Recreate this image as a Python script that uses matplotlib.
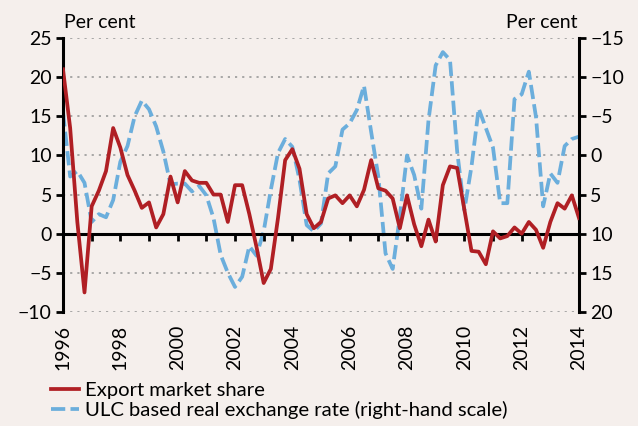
import numpy as np
import matplotlib
matplotlib.use("Agg")
import matplotlib.pyplot as plt

# quarterly observations, 1996Q1 - 2014Q1
export_share = [21.0, 13.5, 1.5, -7.5, 3.5, 5.5, 8.0, 13.5, 11.0, 7.5,
                5.5, 3.3, 4.0, 0.8, 2.5, 7.3, 4.0, 8.0, 6.8, 6.5,
                6.5, 5.0, 5.0, 1.5, 6.2, 6.2, 2.5, -1.7, -6.3, -4.5,
                2.0, 9.4, 10.8, 8.3, 2.5, 0.7, 1.5, 4.5, 4.9, 3.9,
                4.9, 3.5, 5.6, 9.4, 5.8, 5.5, 4.5, 0.7, 4.9, 1.2,
                -1.6, 1.8, -1.0, 6.2, 8.6, 8.4, 3.1, -2.2, -2.3, -3.9,
                0.3, -0.6, -0.3, 0.8, 0.0, 1.5, 0.5, -1.8, 1.5, 3.9,
                3.2, 4.9, 2.0]

ulc_rate = [-5.5, 2.7, 2.0, 3.5, 8.5, 7.5, 7.9, 5.7, 0.8, -1.2,
            -5.0, -7.0, -5.9, -3.7, -0.5, 3.7, 3.6, 3.6, 4.6, 3.9,
            5.1, 8.0, 12.7, 15.0, 16.8, 15.5, 11.6, 12.8, 9.7, 4.4,
            -0.3, -2.1, -1.1, 3.1, 8.9, 9.7, 8.7, 2.3, 1.4, -3.3,
            -4.1, -5.8, -8.9, -3.0, 2.7, 12.5, 14.5, 7.8, 0.0, 2.5,
            6.8, -4.5, -11.5, -13.2, -12.2, -0.5, 7.0, 1.4, -6.0, -3.5,
            -1.0, 6.1, 6.1, -7.2, -7.8, -10.7, -4.9, 6.5, 2.3, 3.5,
            -1.2, -2.1, -2.4]

start_year = 1996
year_ticks = list(range(1996, 2015, 2))
left_ticks = [-10, -5, 0, 5, 10, 15, 20, 25]
right_ticks = [-15, -10, -5, 0, 5, 10, 15, 20]

labels = ["Export market share", "ULC based real exchange rate (right-hand scale)"]

bg = "#F5EFEC"
red = "#B01F24"
blue = "#6BAEDC"

plt.rcParams["font.family"] = ["Lato", "DejaVu Sans"]
plt.rcParams["font.size"] = 14

t = start_year + np.arange(len(export_share)) / 4

fig = plt.figure(figsize=(6.38, 4.26), dpi=100, facecolor=bg)
ax = fig.add_axes([63 / 638, 1 - 312 / 426, 516 / 638, 274 / 426])
axr = ax.twinx()
ax.set_zorder(axr.get_zorder() + 1)
ax.patch.set_visible(False)
axr.set_facecolor(bg)

# right-hand scale, inverted
l2, = axr.plot(t, ulc_rate, color=blue, lw=2.7, dashes=(3.8, 1.4))
axr.set_ylim(20, -15)
axr.set_yticks(right_ticks)
axr.yaxis.grid(True, color="#9A9A9A", lw=1.2, linestyle=(0, (1.3, 3.0)))

l1, = ax.plot(t, export_share, color=red, lw=2.7, zorder=5)
ax.set_ylim(-10, 25)
ax.set_yticks(left_ticks)
ax.set_xlim(1996, 2014)

for a in (ax, axr):
    a.spines["top"].set_visible(False)
axr.spines["bottom"].set_visible(False)
axr.spines["left"].set_visible(False)
axr.spines["right"].set_linewidth(2.2)
ax.spines["right"].set_visible(False)
ax.spines["left"].set_linewidth(2.2)

# zero line carries the yearly ticks
ax.spines["bottom"].set_position(("data", 0))
ax.spines["bottom"].set_linewidth(2.2)
ax.set_xticks(range(1996, 2015))
ax.tick_params(axis="x", direction="out", length=5, width=2, labelbottom=False)
ax.tick_params(axis="y", direction="out", length=5, width=2, pad=3)
axr.tick_params(axis="y", direction="out", length=5, width=2, pad=3)

# year labels sit under the plot
sec = ax.secondary_xaxis("bottom")
sec.set_xticks(year_ticks)
sec.set_xticklabels([str(y) for y in year_ticks], rotation=90)
sec.tick_params(length=0, pad=9)
sec.spines["bottom"].set_visible(False)

fig.text(64 / 638, 1 - 28 / 426, "Per cent", ha="left", va="baseline")
fig.text(578 / 638, 1 - 28 / 426, "Per cent", ha="right", va="baseline")

fig.legend([l1, l2], labels, loc="upper left", bbox_to_anchor=(51 / 638, 1 - 382 / 426),
           frameon=False, borderpad=0, borderaxespad=0, handlelength=1.4,
           handletextpad=0.3, labelspacing=0.1, fontsize=14.6)

fig.savefig("out.png", dpi=100, facecolor=bg)
